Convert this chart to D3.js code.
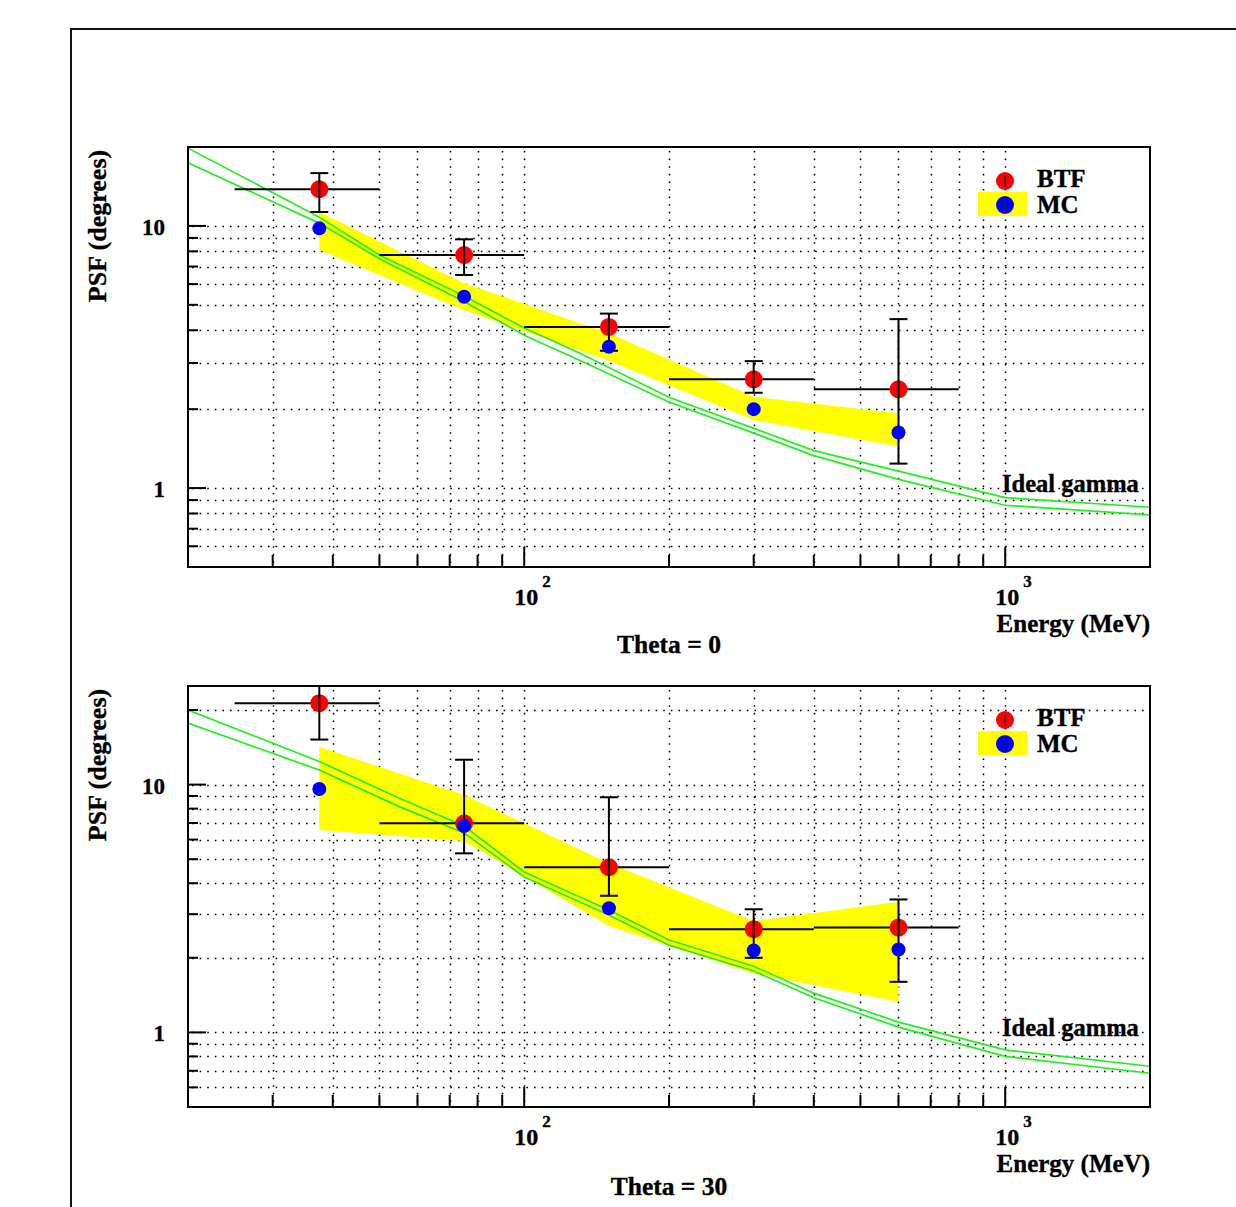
<!DOCTYPE html>
<html><head><meta charset="utf-8">
<script src="https://cdn.jsdelivr.net/npm/d3@7"></script>
<style>
body{margin:0;background:#fff}
svg{display:block}
text{font-family:"Liberation Serif","Times New Roman",serif;font-weight:bold;fill:#000;stroke:#000;stroke-width:0.35px}
</style>
</head><body>
<svg id="c" width="1236" height="1207"></svg>
<script>
// ---- data ----
const binLow  = [25, 50, 100, 200, 400];
const binHigh = [50, 100, 200, 400, 800];
const energy  = [37.5, 75, 150, 300, 600];

// Theta = 0
const btf0   = [13.8, 7.74, 4.12, 2.60, 2.38];
const btf0Lo = [11.3, 6.5, 3.34, 2.31, 1.24];
const btf0Hi = [15.9, 8.89, 4.63, 3.05, 4.41];
const mc0    = [9.79, 5.37, 3.46, 2.00, 1.63];
const mc0Lo  = [8.09, 4.77, 3.06, 1.82, 1.44];
const mc0Hi  = [11.3, 6.05, 3.90, 2.23, 1.93];
const idealE0 = [20, 37.5, 50, 75, 100, 130, 200, 300, 400, 600, 1000, 2000];
const ideal0A = [19.8, 10.8, 7.74, 5.4, 4.08, 3.28, 2.22, 1.69, 1.39, 1.16, 0.92, 0.845];
const ideal0B = [17.4, 10.25, 7.5, 5.15, 3.83, 3.08, 2.13, 1.62, 1.33, 1.08, 0.86, 0.79];

// Theta = 30
const btf30   = [21.3, 6.98, 4.64, 2.61, 2.65];
const btf30Lo = [15.2, 5.28, 3.56, 2.00, 1.60];
const btf30Hi = [30, 12.6, 8.89, 3.14, 3.44];
const mc30    = [9.6, 6.81, 3.17, 2.14, 2.16];
const mc30Lo  = [6.56, 5.92, 2.69, 1.73, 1.33];
const mc30Hi  = [14.2, 9.08, 4.81, 2.81, 3.37];
const idealE30 = [20, 37.5, 55, 75, 100, 150, 200, 300, 400, 600, 1000, 2000];
const ideal30A = [20.0, 12.4, 8.81, 6.81, 4.44, 3.12, 2.36, 1.85, 1.44, 1.10, 0.85, 0.73];
const ideal30B = [17.7, 11.45, 8.15, 6.38, 4.24, 2.98, 2.25, 1.77, 1.38, 1.05, 0.80, 0.684];

const xDomain = [20, 2000];
const xTicks = [30,40,50,60,70,80,90,100,200,300,400,500,600,700,800,900,1000];
const xMajor = [100, 1000];
const xMajorExp = ["2", "3"];
const yTicks0  = [0.6,0.7,0.8,0.9,1,2,3,4,5,6,7,8,9,10];
const yTicks30 = [0.6,0.7,0.8,0.9,1,2,3,4,5,6,7,8,9,10,20];
const yMajor = [1, 10];
const yMajorLabels = ["1", "10"];

const panels = [
  {top:147, bottom:567, yDomain:[0.5,20], yTicks:yTicks0, title:"Theta = 0",
   btf:btf0, btfLo:btf0Lo, btfHi:btf0Hi, mc:mc0, mcLo:mc0Lo, mcHi:mc0Hi,
   idealE:idealE0, idealA:ideal0A, idealB:ideal0B, titleDy:86},
  {top:686, bottom:1107, yDomain:[0.5,25], yTicks:yTicks30, title:"Theta = 30",
   btf:btf30, btfLo:btf30Lo, btfHi:btf30Hi, mc:mc30, mcLo:mc30Lo, mcHi:mc30Hi,
   idealE:idealE30, idealA:ideal30A, idealB:ideal30B, titleDy:88}
];

const svg = d3.select("#c");
const X0 = 188, X1 = 1150;
const GREEN = "#1ff01f";

// outer canvas frame
svg.append("path").attr("d","M71,1207 L71,29 L1236,29").attr("fill","none")
  .attr("stroke","#111").attr("stroke-width",2);

panels.forEach((p, pi) => {
  const x = d3.scaleLog().domain(xDomain).range([X0, X1]);
  const y = d3.scaleLog().domain(p.yDomain).range([p.bottom, p.top]);
  const g = svg.append("g");
  const clipId = "clip" + pi;
  g.append("clipPath").attr("id", clipId).append("rect")
    .attr("x", X0).attr("y", p.top).attr("width", X1 - X0).attr("height", p.bottom - p.top);

  // grid
  const grid = g.append("g").attr("stroke","#000").attr("stroke-width",1.5)
    .attr("stroke-dasharray","1.6,6");
  grid.selectAll(".vg").data(xTicks).join("line")
    .attr("x1", d => Math.round(x(d)) + 0.5).attr("x2", d => Math.round(x(d)) + 0.5)
    .attr("y1", p.top + 4).attr("y2", p.bottom);
  grid.selectAll(".hg").data(p.yTicks).join("line")
    .attr("y1", d => Math.round(y(d)) + 0.5).attr("y2", d => Math.round(y(d)) + 0.5)
    .attr("x1", X0 + 4).attr("x2", X1);

  const plot = g.append("g").attr("clip-path", `url(#${clipId})`);

  // yellow MC band
  const band = d3.area().x((d,i) => x(energy[i])).y0((d,i) => y(p.mcLo[i])).y1((d,i) => y(p.mcHi[i]));
  plot.append("path").datum(p.mc).attr("d", band).attr("fill","#ffff00");

  // ideal gamma curves
  const line = d3.line().x((d,i) => x(p.idealE[i])).y(d => y(d));
  [p.idealA, p.idealB].forEach(arr => {
    plot.append("path").datum(arr).attr("d", line).attr("fill","none")
      .attr("stroke", GREEN).attr("stroke-width", 1.7);
  });

  // BTF error bars (horizontal = bin width)
  plot.selectAll(".hb").data(p.btf).join("line")
    .attr("x1", (d,i) => x(binLow[i])).attr("x2", (d,i) => x(binHigh[i]))
    .attr("y1", d => y(d)).attr("y2", d => y(d))
    .attr("stroke","#000").attr("stroke-width",2);
  // red markers
  plot.selectAll(".rd").data(p.btf).join("circle")
    .attr("cx", (d,i) => x(energy[i])).attr("cy", d => y(d)).attr("r", 9)
    .attr("fill","#ff0000");
  // vertical error bars
  plot.selectAll(".vb").data(p.btf).join("line")
    .attr("x1", (d,i) => x(energy[i])).attr("x2", (d,i) => x(energy[i]))
    .attr("y1", (d,i) => y(p.btfLo[i])).attr("y2", (d,i) => y(p.btfHi[i]))
    .attr("stroke","#000").attr("stroke-width",2);
  [p.btfLo, p.btfHi].forEach(arr => {
    plot.selectAll(null).data(arr).join("line")
      .attr("x1", (d,i) => x(energy[i]) - 9).attr("x2", (d,i) => x(energy[i]) + 9)
      .attr("y1", d => y(d)).attr("y2", d => y(d))
      .attr("stroke","#000").attr("stroke-width",2);
  });
  // blue markers
  plot.selectAll(".bd").data(p.mc).join("circle")
    .attr("cx", (d,i) => x(energy[i])).attr("cy", d => y(d)).attr("r", 7)
    .attr("fill","#0000ff");

  // ticks
  const ticks = g.append("g").attr("stroke","#000").attr("stroke-width",2);
  ticks.selectAll(".xt").data(xTicks).join("line")
    .attr("x1", d => x(d)).attr("x2", d => x(d))
    .attr("y1", p.bottom).attr("y2", d => p.bottom - (xMajor.includes(d) ? 20 : 12));
  ticks.selectAll(".yt").data(p.yTicks).join("line")
    .attr("y1", d => y(d)).attr("y2", d => y(d))
    .attr("x1", X0).attr("x2", d => X0 + (yMajor.includes(d) ? 18 : 10));

  // frame
  g.append("rect").attr("x", X0).attr("y", p.top).attr("width", X1 - X0).attr("height", p.bottom - p.top)
    .attr("fill","none").attr("stroke","#000").attr("stroke-width",2);

  // y labels
  yMajor.forEach((v, k) => {
    g.append("text").attr("x", 165).attr("y", y(v) + 9).attr("text-anchor","end")
      .attr("font-size", 23).text(yMajorLabels[k]);
  });
  // x labels
  xMajor.forEach((v, k) => {
    const t = g.append("text").attr("x", x(v) - 10).attr("y", p.bottom + 38)
      .attr("font-size", 24);
    t.append("tspan").text("10");
    t.append("tspan").attr("dx", 4).attr("dy", -18).attr("font-size", 17).text(xMajorExp[k]);
  });

  g.append("text").attr("x", X1).attr("y", p.bottom + 65).attr("text-anchor","end")
    .attr("font-size", 25).text("Energy (MeV)");
  g.append("text").attr("x", 669).attr("y", p.bottom + p.titleDy).attr("text-anchor","middle")
    .attr("font-size", 25.5).text(p.title);
  g.append("text").attr("transform", `translate(106,${p.top + 79}) rotate(-90)`)
    .attr("text-anchor","middle").attr("font-size", 26).text("PSF (degrees)");
  g.append("text").attr("x", 1002).attr("y", y(1) + 4).attr("font-size", 24.5).text("Ideal gamma");

  // legend
  const ly = p.top + 34;
  g.append("rect").attr("x", 978).attr("y", ly + 11).attr("width", 49).attr("height", 24).attr("fill","#ffff00");
  g.append("circle").attr("cx", 1005).attr("cy", ly).attr("r", 9).attr("fill","#ff0000");
  g.append("circle").attr("cx", 1005).attr("cy", ly + 24).attr("r", 9).attr("fill","#0000ff");
  [ly, ly + 24].forEach(cy => g.append("line").attr("x1",1005).attr("x2",1005)
    .attr("y1", cy - 5).attr("y2", cy + 6).attr("stroke","#222").attr("stroke-width",1.5));
  g.append("text").attr("x", 1037).attr("y", ly + 6).attr("font-size", 25).text("BTF");
  g.append("text").attr("x", 1037).attr("y", ly + 32).attr("font-size", 25).text("MC");
});
</script>
</body></html>
